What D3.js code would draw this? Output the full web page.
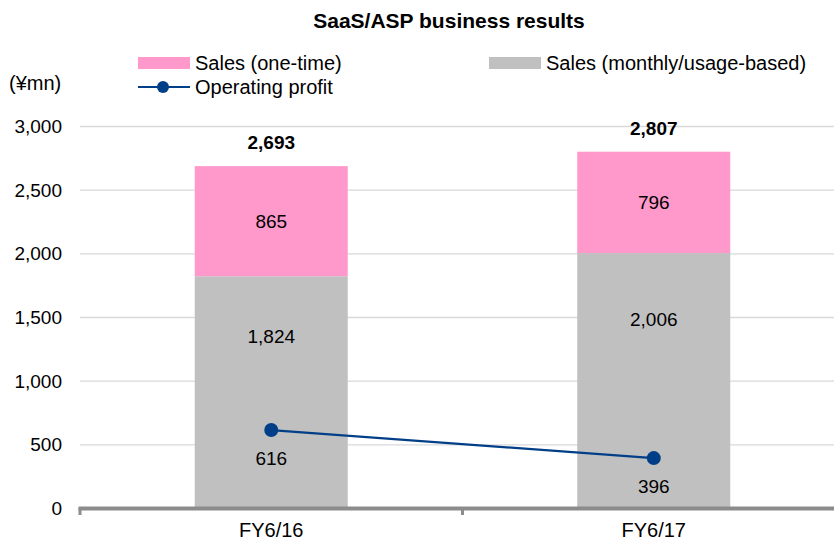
<html>
<head>
  <meta charset="utf-8">
  <script src="https://d3js.org/d3.v7.min.js"></script>
  <style>
    body { margin: 0; background: #fff; }
    text { font-family: "Liberation Sans", Arial, sans-serif; fill: #000; }
  </style>
</head>
<body>
<svg id="chart" width="834" height="542"></svg>
<script>
// data
var categories = ["FY6/16", "FY6/17"];
var salesMonthly = [1824, 2006];
var salesOneTime = [865, 796];
var salesTotal = [2693, 2807];
var operatingProfit = [616, 396];
var yTicks = [0, 500, 1000, 1500, 2000, 2500, 3000];

var svg = d3.select("#chart");
var fmt = d3.format(",");

var x = d3.scaleBand().domain(categories).range([80, 845]).padding(0);
var y = d3.scaleLinear().domain([0, 3000]).range([508.5, 126.5]);
var barW = x.bandwidth() * 0.4;
var cx = d => x(d) + x.bandwidth() / 2;

// gridlines
svg.append("g").selectAll("line").data(yTicks.slice(1)).join("line")
    .attr("x1", 80).attr("x2", 834)
    .attr("y1", d => y(d)).attr("y2", d => y(d))
    .attr("stroke", "#d9d9d9").attr("stroke-width", 1.3);

// y tick labels
svg.append("g").selectAll("text").data(yTicks).join("text")
    .attr("x", 62).attr("y", d => y(d)).attr("dy", "0.35em")
    .attr("text-anchor", "end").style("font-size", "19px")
    .text(d => fmt(d));

svg.append("text").attr("x", 9).attr("y", 90).style("font-size", "20px").text("(¥mn)");

// stacked bars
svg.append("g").selectAll("rect").data(categories).join("rect")
    .attr("x", d => cx(d) - barW / 2).attr("width", barW)
    .attr("y", (d, i) => y(salesMonthly[i])).attr("height", (d, i) => y(0) - y(salesMonthly[i]))
    .attr("fill", "#c0c0c0");
svg.append("g").selectAll("rect").data(categories).join("rect")
    .attr("x", d => cx(d) - barW / 2).attr("width", barW)
    .attr("y", (d, i) => y(salesMonthly[i] + salesOneTime[i]))
    .attr("height", (d, i) => y(salesMonthly[i]) - y(salesMonthly[i] + salesOneTime[i]))
    .attr("fill", "#ff99cc");

// x axis
svg.append("line").attr("x1", 78.5).attr("x2", 834).attr("y1", 508.5).attr("y2", 508.5)
    .attr("stroke", "#8c8c8c").attr("stroke-width", 4);
svg.append("g").selectAll("line").data([80, 845 - x.bandwidth()]).join("line")
    .attr("x1", d => d).attr("x2", d => d).attr("y1", 508).attr("y2", 515)
    .attr("stroke", "#8c8c8c").attr("stroke-width", 3);
svg.append("g").selectAll("text").data(categories).join("text")
    .attr("x", d => cx(d)).attr("y", 537).attr("text-anchor", "middle")
    .style("font-size", "20px").text(d => d);

// segment labels
var lbl = svg.append("g").style("font-size", "19px").attr("text-anchor", "middle");
lbl.selectAll(".m").data(categories).join("text").attr("class", "m")
    .attr("x", d => cx(d)).attr("y", (d, i) => y(salesMonthly[i] * 0.74)).attr("dy", "0.35em")
    .text((d, i) => fmt(salesMonthly[i]));
lbl.selectAll(".o").data(categories).join("text").attr("class", "o")
    .attr("x", d => cx(d)).attr("y", (d, i) => y(salesMonthly[i] + salesOneTime[i] / 2)).attr("dy", "0.35em")
    .text((d, i) => fmt(salesOneTime[i]));
lbl.selectAll(".t").data(categories).join("text").attr("class", "t")
    .attr("x", d => cx(d)).attr("y", (d, i) => y(salesTotal[i]) - 23).attr("dy", "0.35em")
    .style("font-weight", "bold")
    .text((d, i) => fmt(salesTotal[i]));

// operating profit line
var line = d3.line().x((d, i) => cx(categories[i])).y(d => y(d));
svg.append("path").attr("d", line(operatingProfit))
    .attr("fill", "none").attr("stroke", "#003f87").attr("stroke-width", 2.2);
svg.append("g").selectAll("circle").data(operatingProfit).join("circle")
    .attr("cx", (d, i) => cx(categories[i])).attr("cy", d => y(d)).attr("r", 7)
    .attr("fill", "#003f87");
lbl.selectAll(".p").data(operatingProfit).join("text").attr("class", "p")
    .attr("x", (d, i) => cx(categories[i])).attr("y", d => y(d) + 28).attr("dy", "0.35em")
    .text(d => fmt(d));

// title
svg.append("text").attr("x", 449).attr("y", 28).attr("text-anchor", "middle")
    .style("font-size", "21px").style("font-weight", "bold").text("SaaS/ASP business results");

// legend
var leg = svg.append("g").style("font-size", "20px");
leg.append("rect").attr("x", 138).attr("y", 57).attr("width", 52).attr("height", 12).attr("fill", "#ff99cc");
leg.append("text").attr("x", 195).attr("y", 70).text("Sales (one-time)");
leg.append("rect").attr("x", 489).attr("y", 57).attr("width", 52).attr("height", 12).attr("fill", "#c0c0c0");
leg.append("text").attr("x", 546).attr("y", 70).text("Sales (monthly/usage-based)");
leg.append("line").attr("x1", 138).attr("x2", 190).attr("y1", 87).attr("y2", 87)
    .attr("stroke", "#003f87").attr("stroke-width", 2.2);
leg.append("circle").attr("cx", 163).attr("cy", 87).attr("r", 6).attr("fill", "#003f87");
leg.append("text").attr("x", 195).attr("y", 94).text("Operating profit");
</script>
</body>
</html>
